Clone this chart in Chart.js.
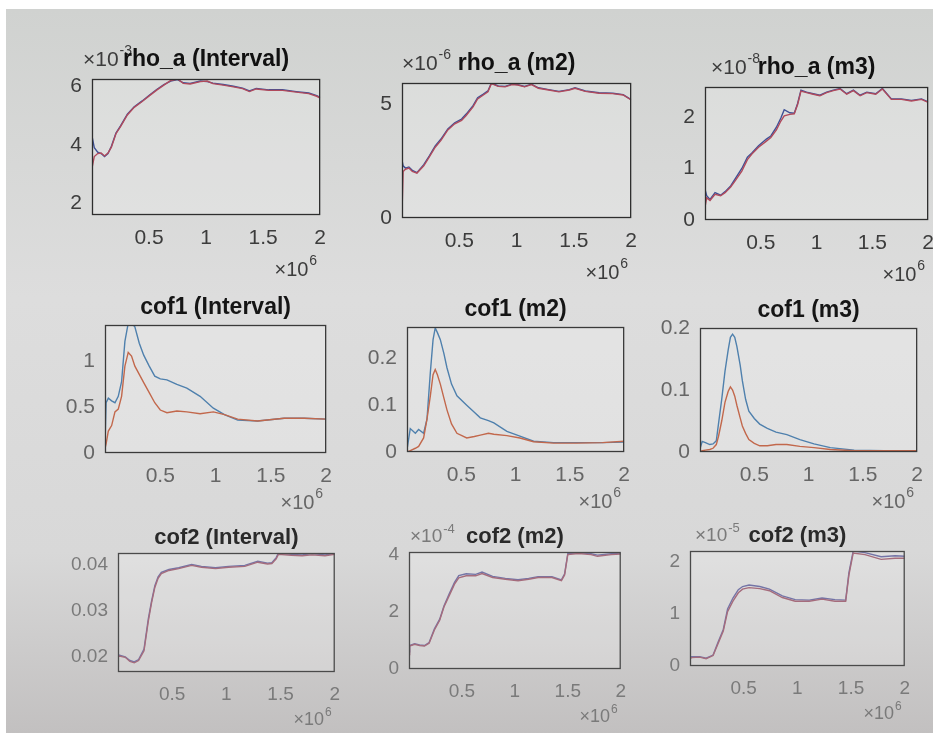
<!DOCTYPE html>
<html>
<head>
<meta charset="utf-8">
<title>rho_a / cof1 / cof2</title>
<script src="https://cdn.jsdelivr.net/npm/chart.js@4.4.1/dist/chart.umd.min.js"></script>
<style>
  html, body { margin: 0; padding: 0; width: 933px; height: 733px; overflow: hidden; background: #fff; }
  #screen {
    position: absolute; left: 6px; top: 9px; right: 0; bottom: 0;
    background: linear-gradient(to bottom, #d0d2d0 0%, #dddddd 40%, #d8d8d8 75%, #c2c0c0 100%);
  }
  canvas { position: absolute; }
</style>
</head>
<body>
<div id="screen"></div>
<script>
// x values are in units of 1e6 (the axes show "x10^6")
const xTicks = [0.5, 1, 1.5, 2];

// rho_a (Interval), x10^-3
const xRhoInt = [0, 0.02, 0.05, 0.08, 0.11, 0.14, 0.17, 0.21, 0.25, 0.31, 0.37, 0.44, 0.51, 0.57, 0.63, 0.69, 0.75, 0.8, 0.86, 0.95, 1.01, 1.06, 1.15, 1.24, 1.32, 1.38, 1.44, 1.55, 1.67, 1.79, 1.9, 1.97, 2.0];
const rhoIntBlue = [4.3, 3.9, 3.75, 3.7, 3.6, 3.7, 3.95, 4.4, 4.65, 5.05, 5.3, 5.5, 5.72, 5.9, 6.06, 6.18, 6.23, 6.12, 6.1, 6.18, 6.16, 6.11, 6.06, 6.0, 5.94, 5.84, 5.93, 5.88, 5.88, 5.82, 5.77, 5.68, 5.62];
const rhoIntRed = [3.2, 3.6, 3.7, 3.72, 3.62, 3.72, 3.92, 4.38, 4.62, 5.02, 5.28, 5.48, 5.7, 5.88, 6.04, 6.2, 6.25, 6.1, 6.08, 6.16, 6.18, 6.09, 6.04, 5.98, 5.92, 5.82, 5.91, 5.86, 5.86, 5.8, 5.75, 5.66, 5.6];
const rhoIntTicks = [2, 4, 6];

// rho_a (m2), x10^-6
const xRhoM2 = [0, 0.01, 0.03, 0.06, 0.09, 0.13, 0.19, 0.24, 0.29, 0.34, 0.4, 0.46, 0.52, 0.56, 0.62, 0.66, 0.71, 0.75, 0.78, 0.84, 0.9, 0.96, 1.01, 1.07, 1.13, 1.19, 1.28, 1.37, 1.46, 1.51, 1.6, 1.72, 1.84, 1.93, 2.0];
const rhoM2Blue = [2.55, 2.3, 2.2, 2.25, 2.1, 2.0, 2.35, 2.75, 3.18, 3.48, 3.92, 4.2, 4.36, 4.58, 4.95, 5.3, 5.46, 5.6, 5.95, 5.82, 5.8, 5.9, 5.88, 5.8, 5.9, 5.74, 5.66, 5.58, 5.66, 5.74, 5.6, 5.52, 5.5, 5.44, 5.22];
const rhoM2Red = [0.2, 2.05, 2.15, 2.2, 2.05, 1.98, 2.3, 2.7, 3.12, 3.42, 3.88, 4.15, 4.3, 4.52, 4.9, 5.25, 5.42, 5.56, 5.92, 5.8, 5.78, 5.88, 5.86, 5.78, 5.88, 5.72, 5.64, 5.56, 5.64, 5.72, 5.58, 5.5, 5.48, 5.42, 5.2];
const rhoM2Ticks = [0, 5];

// rho_a (m3), x10^-8
const xRhoM3 = [0, 0.015, 0.045, 0.09, 0.14, 0.18, 0.23, 0.27, 0.33, 0.38, 0.42, 0.48, 0.55, 0.59, 0.64, 0.68, 0.71, 0.76, 0.8, 0.83, 0.86, 0.91, 0.97, 1.03, 1.09, 1.15, 1.21, 1.27, 1.33, 1.39, 1.45, 1.53, 1.59, 1.67, 1.76, 1.85, 1.94, 2.0];
const rhoM3Blue = [0.6, 0.47, 0.4, 0.53, 0.48, 0.55, 0.66, 0.8, 1.0, 1.22, 1.3, 1.44, 1.57, 1.63, 1.8, 1.98, 2.14, 2.08, 2.07, 2.26, 2.52, 2.48, 2.45, 2.42, 2.48, 2.52, 2.55, 2.45, 2.52, 2.42, 2.48, 2.45, 2.55, 2.35, 2.35, 2.32, 2.35, 2.29];
const rhoM3Red = [0.25, 0.43, 0.38, 0.5, 0.47, 0.53, 0.64, 0.76, 0.95, 1.17, 1.28, 1.41, 1.53, 1.6, 1.75, 1.92, 2.02, 2.05, 2.06, 2.24, 2.5, 2.47, 2.44, 2.41, 2.47, 2.51, 2.54, 2.44, 2.51, 2.41, 2.47, 2.44, 2.54, 2.34, 2.34, 2.31, 2.34, 2.28];
const rhoM3Ticks = [0, 1, 2];

// cof1 (Interval)
const xCof1Int = [0, 0.01, 0.03, 0.06, 0.09, 0.12, 0.15, 0.18, 0.21, 0.24, 0.27, 0.31, 0.35, 0.4, 0.45, 0.5, 0.56, 0.65, 0.74, 0.86, 0.98, 1.08, 1.2, 1.38, 1.62, 1.8, 2.0];
const cof1IntBlue = [0.1, 0.55, 0.6, 0.57, 0.55, 0.62, 0.78, 1.22, 1.42, 1.42, 1.38, 1.2, 1.07, 0.95, 0.84, 0.81, 0.8, 0.75, 0.71, 0.62, 0.49, 0.42, 0.36, 0.35, 0.38, 0.38, 0.37];
const cof1IntRed = [0.05, 0.1, 0.24, 0.3, 0.45, 0.48, 0.62, 0.95, 1.1, 1.06, 0.95, 0.86, 0.77, 0.66, 0.55, 0.47, 0.44, 0.46, 0.45, 0.43, 0.45, 0.42, 0.37, 0.35, 0.38, 0.38, 0.37];
const cof1IntTicks = [0, 0.5, 1];

// cof1 (m2)
const xCof1M2 = [0, 0.03, 0.077, 0.107, 0.153, 0.184, 0.215, 0.24, 0.26, 0.28, 0.307, 0.34, 0.368, 0.41, 0.46, 0.55, 0.62, 0.675, 0.75, 0.8, 0.92, 1.04, 1.166, 1.35, 1.56, 1.8, 2.0];
const cof1M2Blue = [0.005, 0.05, 0.04, 0.048, 0.04, 0.07, 0.17, 0.24, 0.265, 0.255, 0.24, 0.21, 0.18, 0.145, 0.12, 0.1, 0.085, 0.073, 0.067, 0.062, 0.044, 0.034, 0.023, 0.02, 0.02, 0.02, 0.021];
const cof1M2Red = [0, 0.003, 0.008, 0.012, 0.03, 0.07, 0.12, 0.165, 0.176, 0.165, 0.145, 0.115, 0.09, 0.06, 0.04, 0.03, 0.033, 0.036, 0.04, 0.038, 0.035, 0.03, 0.022, 0.019, 0.019, 0.02, 0.023];
const cof1M2Ticks = [0, 0.1, 0.2];

// cof1 (m3)
const xCof1M3 = [0, 0.02, 0.05, 0.09, 0.12, 0.15, 0.17, 0.2, 0.23, 0.26, 0.28, 0.3, 0.32, 0.34, 0.37, 0.39, 0.42, 0.45, 0.5, 0.55, 0.62, 0.7, 0.8, 0.92, 1.05, 1.2, 1.42, 1.7, 2.0];
const cof1M3Blue = [0.005, 0.017, 0.015, 0.012, 0.013, 0.018, 0.045, 0.085, 0.13, 0.165, 0.185, 0.19, 0.185, 0.17, 0.14, 0.115, 0.085, 0.066, 0.054, 0.045, 0.038, 0.032, 0.028, 0.02, 0.013, 0.007, 0.003, 0.002, 0.002];
const cof1M3Red = [0, 0.002, 0.003, 0.004, 0.006, 0.012, 0.025, 0.05, 0.08, 0.098, 0.105, 0.1, 0.09, 0.075, 0.055, 0.042, 0.03, 0.02, 0.014, 0.01, 0.01, 0.012, 0.012, 0.009, 0.007, 0.004, 0.002, 0.002, 0.002];
const cof1M3Ticks = [0, 0.1, 0.2];

// cof2 (Interval)
const xCof2Int = [0, 0.006, 0.067, 0.11, 0.15, 0.19, 0.24, 0.28, 0.31, 0.34, 0.37, 0.4, 0.47, 0.56, 0.68, 0.77, 0.9, 1.02, 1.17, 1.29, 1.38, 1.42, 1.46, 1.48, 1.6, 1.7, 1.79, 1.91, 2.0];
const cof2IntBlue = [0.0205, 0.0204, 0.02, 0.0192, 0.0189, 0.0194, 0.0217, 0.0283, 0.0322, 0.0355, 0.0374, 0.0384, 0.039, 0.0394, 0.0401, 0.0397, 0.0394, 0.0397, 0.0399, 0.0408, 0.0404, 0.0405, 0.0416, 0.0426, 0.0423, 0.0422, 0.0425, 0.0422, 0.0425];
const cof2IntRed = [0.0203, 0.0202, 0.0199, 0.019, 0.0187, 0.0192, 0.0213, 0.0278, 0.0318, 0.0351, 0.0371, 0.0381, 0.0388, 0.0392, 0.0399, 0.0395, 0.0392, 0.0395, 0.0397, 0.0406, 0.0402, 0.0403, 0.0413, 0.0423, 0.0421, 0.042, 0.0422, 0.042, 0.0423];
const cof2IntTicks = [0.02, 0.03, 0.04];

// cof2 (m2), x10^-4
const xCof2M2 = [0, 0.006, 0.053, 0.1, 0.146, 0.19, 0.24, 0.29, 0.33, 0.38, 0.43, 0.47, 0.54, 0.63, 0.69, 0.79, 0.91, 1.03, 1.13, 1.22, 1.35, 1.44, 1.47, 1.5, 1.6, 1.72, 1.78, 1.91, 2.0];
const cof2M2Blue = [0.6, 0.82, 0.88, 0.84, 0.82, 0.92, 1.4, 1.74, 2.2, 2.62, 3.02, 3.26, 3.32, 3.3, 3.38, 3.23, 3.16, 3.11, 3.16, 3.22, 3.22, 3.11, 3.32, 4.02, 4.06, 4.02, 3.97, 4.02, 4.04];
const cof2M2Red = [0.5, 0.8, 0.86, 0.82, 0.8, 0.9, 1.36, 1.7, 2.16, 2.56, 2.96, 3.18, 3.25, 3.25, 3.33, 3.19, 3.13, 3.08, 3.13, 3.19, 3.19, 3.08, 3.28, 3.99, 4.03, 3.99, 3.93, 3.99, 4.01];
const cof2M2Ticks = [0, 2, 4];

// cof2 (m3), x10^-5
const xCof2M3 = [0, 0.015, 0.09, 0.15, 0.215, 0.26, 0.31, 0.35, 0.4, 0.45, 0.49, 0.55, 0.65, 0.74, 0.86, 0.98, 1.11, 1.23, 1.35, 1.45, 1.48, 1.52, 1.63, 1.78, 1.91, 2.0];
const cof2M3Blue = [0.16, 0.18, 0.18, 0.15, 0.21, 0.45, 0.7, 1.09, 1.3, 1.46, 1.52, 1.55, 1.52, 1.47, 1.34, 1.27, 1.26, 1.3, 1.27, 1.26, 1.78, 2.2, 2.17, 2.09, 2.11, 2.1];
const cof2M3Red = [0.14, 0.16, 0.17, 0.14, 0.2, 0.42, 0.67, 1.04, 1.24, 1.4, 1.47, 1.5, 1.48, 1.44, 1.31, 1.24, 1.24, 1.28, 1.24, 1.24, 1.74, 2.16, 2.13, 2.04, 2.06, 2.06];
const cof2M3Ticks = [0, 1, 2];

// one style per row of subplots (the photo is darker on top, washed out below)
const rowStyles = [
    { tickSize: 21, titleSize: 23, tick: '#3c3c3c', title: '#111', frame: '#2e2e2e', blue: '#3e5096', red: '#b04a5c', titleGap: 19, xExpGap: 55 },
    { tickSize: 21, titleSize: 23, tick: '#666', title: '#151515', frame: '#3a3a3a', blue: '#4f80ad', red: '#c2684c', titleGap: 17, xExpGap: 50 },
    { tickSize: 19, titleSize: 22, tick: '#7a7a7a', title: '#2a2a2a', frame: '#4a4a4a', blue: '#7474a6', red: '#a56c7c', titleGap: 15, xExpGap: 48 }
];

// box = [left, top, right, bottom] of the axes frame on the page
const panels = [
    { title: 'rho_a (Interval)', xs: xRhoInt, blue: rhoIntBlue, red: rhoIntRed, ticks: rhoIntTicks, yMin: 1.6, yMax: 6.25, yExp: '-3', row: 0, box: [92, 79, 323, 215], expDx: -9 },
    { title: 'rho_a (m2)', xs: xRhoM2, blue: rhoM2Blue, red: rhoM2Red, ticks: rhoM2Ticks, yMin: 0, yMax: 5.95, yExp: '-6', row: 0, box: [402, 83, 634, 218], expDx: 0 },
    { title: 'rho_a (m3)', xs: xRhoM3, blue: rhoM3Blue, red: rhoM3Red, ticks: rhoM3Ticks, yMin: 0, yMax: 2.58, yExp: '-8', row: 0, box: [705, 87, 931, 220], expDx: 6 },
    { title: 'cof1 (Interval)', xs: xCof1Int, blue: cof1IntBlue, red: cof1IntRed, ticks: cof1IntTicks, yMin: 0, yMax: 1.4, yExp: null, row: 1, box: [105, 325, 329, 453] },
    { title: 'cof1 (m2)', xs: xCof1M2, blue: cof1M2Blue, red: cof1M2Red, ticks: cof1M2Ticks, yMin: 0, yMax: 0.267, yExp: null, row: 1, box: [407, 327, 627, 452] },
    { title: 'cof1 (m3)', xs: xCof1M3, blue: cof1M3Blue, red: cof1M3Red, ticks: cof1M3Ticks, yMin: 0, yMax: 0.2, yExp: null, row: 1, box: [700, 328, 920, 452] },
    { title: 'cof2 (Interval)', xs: xCof2Int, blue: cof2IntBlue, red: cof2IntRed, ticks: cof2IntTicks, yMin: 0.0167, yMax: 0.0426, yExp: null, row: 2, box: [118, 553, 337, 672] },
    { title: 'cof2 (m2)', xs: xCof2M2, blue: cof2M2Blue, red: cof2M2Red, ticks: cof2M2Ticks, yMin: 0, yMax: 4.08, yExp: '-4', row: 2, box: [409, 552, 623, 669], expDx: 1 },
    { title: 'cof2 (m3)', xs: xCof2M3, blue: cof2M3Blue, red: cof2M3Red, ticks: cof2M3Ticks, yMin: 0, yMax: 2.2, yExp: '-5', row: 2, box: [690, 551, 907, 666], expDx: 5 }
];

const FONT = '"Liberation Sans", Arial, Helvetica, sans-serif';
const AXIS_W = 70, AXIS_H = 80, PAD_T = 45, PAD_R = 14;

function toPoints(xs, ys) {
    return xs.map((x, i) => ({ x: x, y: ys[i] }));
}

// "x10" followed by a raised exponent
function drawPower(ctx, x, y, exp, size, color, alignRight) {
    const supSize = Math.round(size * 0.68);
    ctx.save();
    ctx.fillStyle = color;
    ctx.textBaseline = 'middle';
    ctx.textAlign = 'left';
    ctx.font = size + 'px ' + FONT;
    const baseW = ctx.measureText('\u00d710').width;
    ctx.font = supSize + 'px ' + FONT;
    const expW = ctx.measureText(exp).width;
    const start = alignRight ? x - baseW - expW : x;
    ctx.font = size + 'px ' + FONT;
    ctx.fillText('\u00d710', start, y);
    ctx.font = supSize + 'px ' + FONT;
    ctx.fillText(exp, start + baseW + 1, y - size * 0.42);
    ctx.restore();
}

const matlabAxes = {
    id: 'matlabAxes',
    beforeDraw(chart) {
        const a = chart.chartArea;
        const ctx = chart.ctx;
        ctx.save();
        ctx.fillStyle = 'rgba(255,255,255,0.2)';
        ctx.fillRect(a.left, a.top, a.right - a.left, a.bottom - a.top);
        ctx.restore();
    },
    afterDraw(chart) {
        const p = chart.options.plugins.matlabAxes.panel;
        const st = rowStyles[p.row];
        const a = chart.chartArea;
        const ctx = chart.ctx;
        ctx.save();
        ctx.strokeStyle = st.frame;
        ctx.lineWidth = 1.3;
        ctx.strokeRect(a.left + 0.5, a.top + 0.5, a.right - a.left - 1, a.bottom - a.top - 1);

        const ty = a.top - st.titleGap;
        if (p.yExp) {
            drawPower(ctx, a.left + (p.expDx || 0), ty, p.yExp, st.tickSize, st.tick, false);
        }
        drawPower(ctx, a.right - 4, a.bottom + st.xExpGap, '6', st.tickSize - 1, st.tick, true);

        ctx.fillStyle = st.title;
        ctx.font = 'bold ' + st.titleSize + 'px ' + FONT;
        ctx.textAlign = 'center';
        ctx.textBaseline = 'middle';
        ctx.fillText(p.title, (a.left + a.right) / 2, ty);
        ctx.restore();
    }
};

panels.forEach(function (p) {
    const st = rowStyles[p.row];
    const [l, t, r, b] = p.box;
    const canvas = document.createElement('canvas');
    canvas.width = (r - l) + AXIS_W + PAD_R;
    canvas.height = (b - t) + PAD_T + AXIS_H;
    canvas.style.left = (l - AXIS_W) + 'px';
    canvas.style.top = (t - PAD_T) + 'px';
    document.body.appendChild(canvas);

    const tickFont = { family: FONT, size: st.tickSize };

    new Chart(canvas, {
        type: 'line',
        data: {
            datasets: [
                { label: 'blue', data: toPoints(p.xs, p.blue), borderColor: st.blue, borderWidth: 1.4, pointRadius: 0, tension: 0, order: 2 },
                { label: 'red', data: toPoints(p.xs, p.red), borderColor: st.red, borderWidth: 1.4, pointRadius: 0, tension: 0, order: 1 }
            ]
        },
        options: {
            responsive: false,
            animation: false,
            events: [],
            layout: { padding: { left: 0, top: PAD_T, right: PAD_R, bottom: 0 } },
            plugins: {
                legend: { display: false },
                tooltip: { enabled: false },
                title: { display: false },
                matlabAxes: { panel: p }
            },
            scales: {
                x: {
                    type: 'linear',
                    min: 0,
                    max: 2,
                    grid: { display: false, drawTicks: false },
                    border: { display: false },
                    afterBuildTicks: function (scale) { scale.ticks = xTicks.map(v => ({ value: v })); },
                    afterFit: function (scale) { scale.height = AXIS_H; },
                    ticks: { autoSkip: false, maxRotation: 0, padding: 11, color: st.tick, font: tickFont, callback: v => String(v) }
                },
                y: {
                    type: 'linear',
                    min: p.yMin,
                    max: p.yMax,
                    grid: { display: false, drawTicks: false },
                    border: { display: false },
                    afterBuildTicks: function (scale) { scale.ticks = p.ticks.map(v => ({ value: v })); },
                    afterFit: function (scale) { scale.width = AXIS_W; },
                    ticks: { autoSkip: false, padding: 10, color: st.tick, font: tickFont, callback: v => String(v) }
                }
            }
        },
        plugins: [matlabAxes]
    });
});
</script>
</body>
</html>
